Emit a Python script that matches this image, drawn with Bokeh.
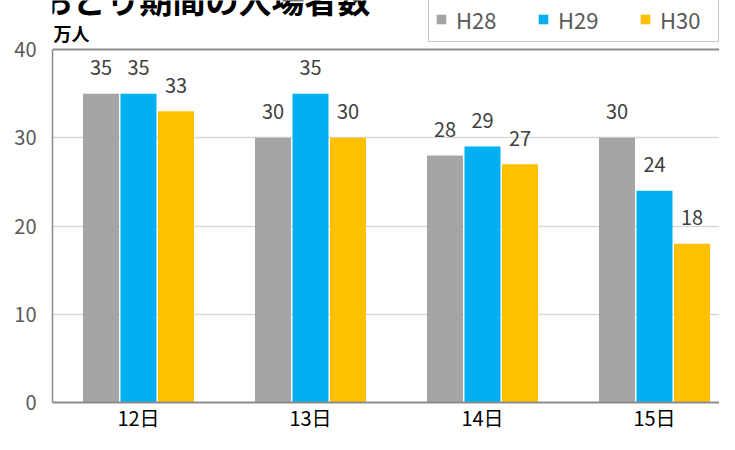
from bokeh.plotting import figure
from bokeh.models import (ColumnDataSource, Range1d, FixedTicker, Span,
                          Legend, LegendItem, Label)
from bokeh.transform import dodge
from bokeh.core.properties import value
from bokeh.embed import file_html
from bokeh.resources import INLINE

# ---- data ----
title_text = "阿波おどり期間の入場者数"
unit_text = "万人"
days = ["12日", "13日", "14日", "15日"]
series = ["H28", "H29", "H30"]
h28 = [35, 30, 28, 30]
h29 = [35, 35, 29, 24]
h30 = [33, 30, 27, 18]
colors = ["#A5A5A5", "#00B0F0", "#FFC000"]
y_ticks = [0, 10, 20, 30, 40]
y_max = 40

FONT = "Noto Sans CJK JP"
AXIS_GRAY = "#8c8c8c"

W, H = 719, 434
LEFT = 52            # frame left (y axis line)
FRAME_BOTTOM = 402   # expected frame bottom (x axis line)
TOP_LINE = 49        # where y = 40 should sit
y_end = y_max * FRAME_BOTTOM / (FRAME_BOTTOM - TOP_LINE)

xs = [i + 0.5 for i in range(len(days))]
src = ColumnDataSource(dict(
    x=xs, day=days,
    H28=h28, H29=h29, H30=h30,
    H28_t=[str(v) for v in h28],
    H29_t=[str(v) for v in h29],
    H30_t=[str(v) for v in h30],
))

p = figure(width=W, height=H, output_backend="svg", toolbar_location=None,
           x_range=Range1d(0, (W - LEFT) / 172.0), y_range=Range1d(0, y_end),
           min_border_left=LEFT, min_border_right=0, min_border_top=0,
           min_border_bottom=0)
p.title.visible = False
p.outline_line_color = None
p.background_fill_color = "white"
p.border_fill_color = "white"

# grid (under the bars)
p.xgrid.visible = False
p.ygrid.ticker = FixedTicker(ticks=[t for t in y_ticks if 0 < t < y_max])
p.ygrid.grid_line_color = "#d9d9d9"
p.ygrid.grid_line_width = 1.5

offsets = [-0.218, 0.0, 0.218]
bar_w = 0.2093
renderers = []
for s, c, off in zip(series, colors, offsets):
    r = p.vbar(x=dodge("x", off, range=p.x_range), top=s, width=bar_w,
               source=src, fill_color=c, line_color=None)
    renderers.append(r)
    p.text(x=dodge("x", off, range=p.x_range), y=s, text=s + "_t", source=src,
           text_align="center", text_baseline="alphabetic", y_offset=-26,
           text_font=value(FONT), text_font_size="20px", text_color="#404040")

# top border of the plot area
p.add_layout(Span(location=y_max, dimension="width", line_color=AXIS_GRAY, line_width=2))

# axes
p.xaxis.ticker = FixedTicker(ticks=xs)
p.xaxis.major_label_overrides = {x: d for x, d in zip(xs, days)}
p.xaxis.major_tick_line_color = None
p.xaxis.major_tick_out = 0
p.xaxis.major_tick_in = 0
p.xaxis.minor_tick_line_color = None
p.xaxis.axis_line_color = AXIS_GRAY
p.xaxis.axis_line_width = 2
p.xaxis.major_label_text_font = FONT
p.xaxis.major_label_text_font_size = "20px"
p.xaxis.major_label_text_color = "#000000"
p.xaxis.major_label_standoff = 0

p.yaxis.ticker = FixedTicker(ticks=y_ticks)
p.yaxis.bounds = (0, y_max)
p.yaxis.major_tick_line_color = None
p.yaxis.major_tick_out = 0
p.yaxis.major_tick_in = 0
p.yaxis.minor_tick_line_color = None
p.yaxis.axis_line_color = AXIS_GRAY
p.yaxis.axis_line_width = 1.5
p.yaxis.major_label_text_font = FONT
p.yaxis.major_label_text_font_size = "20px"
p.yaxis.major_label_text_color = "#595959"
p.yaxis.major_label_standoff = 16

# legend (screen position relative to the frame's bottom-left corner)
legend = Legend(items=[LegendItem(label=s, renderers=[r]) for s, r in zip(series, renderers)],
                orientation="horizontal", location=(428 - LEFT, FRAME_BOTTOM - 42),
                glyph_width=12, glyph_height=12, label_height=27, label_width=52,
                label_standoff=9, spacing=29, padding=6, margin=0,
                border_line_color=AXIS_GRAY, border_line_width=1.5,
                label_text_font=FONT, label_text_font_size="22px",
                label_text_color="#595959", background_fill_color="white",
                background_fill_alpha=1.0)
p.add_layout(legend, "center")

# title (partially cut off at the top, as in the original) and unit label
p.add_layout(Label(x=370 - LEFT, y=FRAME_BOTTOM + 2, x_units="screen", y_units="screen",
                   text=title_text, text_align="right", text_baseline="alphabetic",
                   text_font=FONT, text_font_size="33px", text_font_style="bold",
                   text_color="#000000"))
p.add_layout(Label(x=1, y=FRAME_BOTTOM - 32, x_units="screen", y_units="screen",
                   text=unit_text, text_align="left", text_baseline="alphabetic",
                   text_font=FONT, text_font_size="18px", text_font_style="bold",
                   text_color="#000000"))

open("out.html", "w").write(file_html(p, INLINE))
